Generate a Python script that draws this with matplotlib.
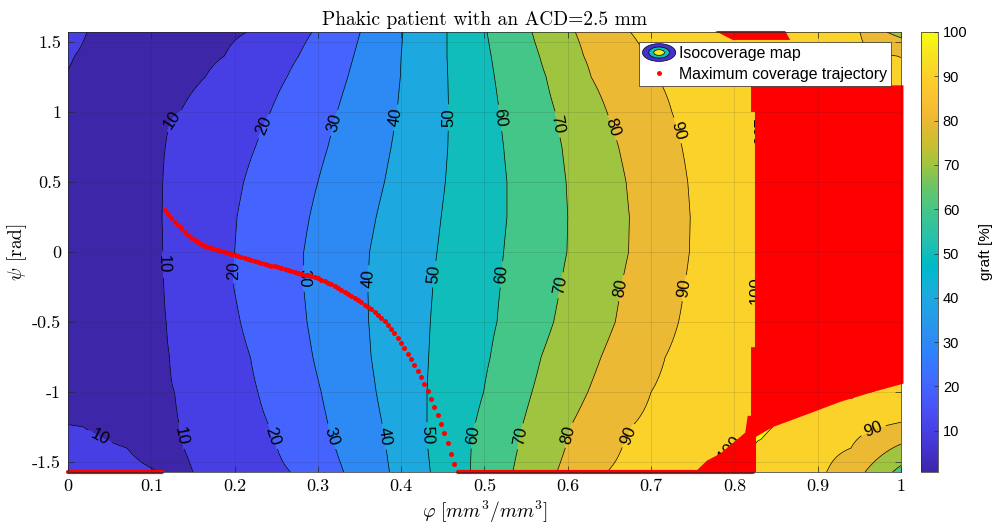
import numpy as np
import matplotlib
matplotlib.use("Agg")
import matplotlib.pyplot as plt
from matplotlib.colors import LinearSegmentedColormap, Normalize
from matplotlib.cm import ScalarMappable
from matplotlib.patches import Ellipse, Polygon
from matplotlib.legend_handler import HandlerBase
from matplotlib.lines import Line2D
from matplotlib.ticker import FuncFormatter

plt.rcParams['mathtext.fontset'] = 'cm'
plt.rcParams['axes.unicode_minus'] = False
plt.rcParams['font.family'] = ['Liberation Sans', 'DejaVu Sans']

HALF_PI = np.pi / 2
nan = np.nan

# ---------------------------------------------------------------- data
# Coverage profiles: for each psi row, where each iso-coverage level crosses phi
psi_rows = [HALF_PI, 1.40, 1.25, 1.00, 0.75, 0.50, 0.25, 0.00,
            -0.25, -0.50, -0.75, -1.00, -1.25, -1.40, -HALF_PI]

z_left = [11.0, 10.3, 9.85, 7.0, 5.0, 3.0, 1.6, 0.7, 1.0, 1.8, 3.0, 6.0, 10.3, 12.0, 14.0]
corner10_x = [0.023, 0.008, nan, nan, nan, nan, nan, nan, nan, nan, nan, nan, 0.019, 0.071, 0.110]
trough_x = [0.15, 0.13, 0.11, nan, nan, nan, nan, nan, nan, nan, nan, nan, 0.09, 0.11, 0.13]
trough_z = [6.5, 6.5, 6.5, nan, nan, nan, nan, nan, nan, nan, nan, nan, 7.0, 7.5, 8.0]

iso10 = [0.215, 0.188, 0.165, 0.135, 0.117, 0.114, 0.113, 0.114, 0.115, 0.118, 0.122, 0.128, 0.134, 0.139, 0.150]
iso20 = [0.293, 0.277, 0.263, 0.243, 0.225, 0.211, 0.203, 0.200, 0.199, 0.207, 0.219, 0.228, 0.242, 0.251, 0.267]
iso30 = [0.351, 0.343, 0.336, 0.323, 0.312, 0.300, 0.290, 0.283, 0.283, 0.287, 0.294, 0.304, 0.313, 0.321, 0.331]
iso40 = [0.402, 0.400, 0.399, 0.395, 0.388, 0.380, 0.370, 0.362, 0.360, 0.361, 0.364, 0.370, 0.378, 0.382, 0.386]
iso50 = [0.455, 0.455, 0.456, 0.457, 0.456, 0.453, 0.448, 0.443, 0.438, 0.435, 0.433, 0.431, 0.431, 0.432, 0.435]
iso60 = [0.503, 0.508, 0.512, 0.518, 0.523, 0.527, 0.527, 0.523, 0.519, 0.515, 0.507, 0.499, 0.488, 0.484, 0.483]
iso70 = [0.557, 0.566, 0.574, 0.585, 0.593, 0.598, 0.600, 0.599, 0.591, 0.583, 0.568, 0.557, 0.545, 0.540, 0.534]
iso80 = [0.609, 0.619, 0.628, 0.647, 0.661, 0.670, 0.674, 0.673, 0.664, 0.657, 0.640, 0.624, 0.603, 0.597, 0.587]
iso90 = [0.675, 0.693, 0.707, 0.725, 0.737, 0.744, 0.747, 0.746, 0.740, 0.733, 0.717, 0.700, 0.676, 0.665, 0.647]

x100_in = [0.777, nan, nan, 0.826, 0.826, 0.826, 0.826, 0.826, 0.826, 0.826, 0.824, 0.823, 0.819, 0.795, 0.757]
peak_x = [0.820, 0.800, 0.800, 0.900, 0.900, 0.900, 0.900, 0.900, 0.900, 0.900, 0.900, 0.900, 0.832, 0.808, 0.792]
peak_z = [100.5, 97.0, 97.5, 101, 101, 101, 101, 101, 101, 101, 101, 101, 101, 101, 101]
x100_out = [0.865, nan, nan, nan, nan, nan, nan, nan, nan, nan, nan, 0.966, 0.846, 0.824, 0.824]
x90_out = [0.951, 0.995, nan, nan, nan, nan, nan, nan, nan, nan, nan, nan, 0.975, 0.940, 0.911]
x80_out = [0.983, nan, nan, nan, nan, nan, nan, nan, nan, nan, nan, nan, nan, 0.990, 0.957]
x70_out = [nan, nan, nan, nan, nan, nan, nan, nan, nan, nan, nan, nan, nan, nan, 0.990]
z_right = [77.0, 89.5, 96.0, 101, 101, 101, 101, 101, 101, 101, 101, 99.5, 88.5, 78.0, 67.0]

# Maximum coverage trajectory (one point per phi sample)
phi_traj = [0.116, 0.120, 0.124, 0.128, 0.132, 0.136, 0.140, 0.144, 0.148, 0.152,
            0.156, 0.160, 0.164, 0.168, 0.172, 0.176, 0.180, 0.184, 0.188, 0.192,
            0.196, 0.200, 0.204, 0.208, 0.212, 0.216, 0.220, 0.224, 0.228, 0.232,
            0.236, 0.240, 0.244, 0.248, 0.252, 0.256, 0.260, 0.264, 0.268, 0.272,
            0.276, 0.280, 0.284, 0.288, 0.292, 0.296, 0.300, 0.304, 0.308, 0.312,
            0.316, 0.320, 0.324, 0.328, 0.332, 0.336, 0.340, 0.344, 0.348, 0.352,
            0.356, 0.360, 0.364, 0.368, 0.372, 0.376, 0.380, 0.384, 0.388, 0.392,
            0.396, 0.400, 0.404, 0.408, 0.412, 0.416, 0.420, 0.424, 0.428, 0.432,
            0.436, 0.440, 0.444, 0.448, 0.452, 0.456, 0.460, 0.464]
psi_traj = [0.300, 0.270, 0.242, 0.217, 0.193, 0.169, 0.146, 0.122, 0.099, 0.085,
            0.072, 0.058, 0.046, 0.037, 0.028, 0.019, 0.011, 0.004, -0.003, -0.010,
            -0.017, -0.024, -0.030, -0.037, -0.043, -0.049, -0.055, -0.062, -0.069, -0.076,
            -0.083, -0.090, -0.097, -0.103, -0.110, -0.117, -0.123, -0.130, -0.137, -0.143,
            -0.149, -0.155, -0.161, -0.167, -0.173, -0.179, -0.188, -0.198, -0.208, -0.219,
            -0.230, -0.242, -0.256, -0.270, -0.284, -0.298, -0.312, -0.327, -0.343, -0.359,
            -0.375, -0.392, -0.409, -0.429, -0.450, -0.472, -0.495, -0.521, -0.549, -0.580,
            -0.614, -0.650, -0.688, -0.727, -0.767, -0.808, -0.850, -0.895, -0.942, -0.995,
            -1.052, -1.110, -1.165, -1.225, -1.290, -1.362, -1.440, -1.515]

# Stretches of the lower boundary psi = -pi/2 where coverage is maximal
edge_run_start = [0.000, 0.468]
edge_run_end = [0.113, 0.822]

# Saturated (maximum coverage) area, outline in (phi, psi)
sat_phi = [0.820, 1.003, 1.003, 0.966, 0.927, 0.887, 0.846, 0.826, 0.826, 0.753,
           0.767, 0.783, 0.799, 0.813, 0.816, 0.820, 0.820, 0.8247, 0.8247, 0.820]
sat_psi = [1.185, 1.190, -0.940, -1.000, -1.070, -1.160, -1.250, -1.320, -HALF_PI, -HALF_PI,
           -1.490, -1.440, -1.360, -1.290, -1.170, -1.170, -0.680, -0.680, 1.000, 1.000]
top_phi = [0.777, 0.861, 0.867, 0.798]
top_psi = [1.578, 1.578, 1.514, 1.514]

levels = [10, 20, 30, 40, 50, 60, 70, 80, 90, 100]
cbar_ticks = [10, 20, 30, 40, 50, 60, 70, 80, 90, 100]
x_ticks = [0, 0.1, 0.2, 0.3, 0.4, 0.5, 0.6, 0.7, 0.8, 0.9, 1]
y_ticks = [-1.5, -1, -0.5, 0, 0.5, 1, 1.5]

# ---------------------------------------------------------------- colormap
PARULA_LOW = [
    (0.2422, 0.1504, 0.6603), (0.2504, 0.1650, 0.7076), (0.2578, 0.1818, 0.7511),
    (0.2647, 0.1978, 0.7952), (0.2706, 0.2147, 0.8364), (0.2751, 0.2342, 0.8710),
    (0.2783, 0.2559, 0.8991), (0.2803, 0.2782, 0.9221), (0.2813, 0.3006, 0.9414),
    (0.2810, 0.3228, 0.9579), (0.2795, 0.3447, 0.9717), (0.2760, 0.3667, 0.9829),
    (0.2699, 0.3892, 0.9906), (0.2602, 0.4123, 0.9952), (0.2440, 0.4358, 0.9988),
    (0.2206, 0.4603, 0.9973), (0.1963, 0.4847, 0.9892), (0.1834, 0.5074, 0.9798),
    (0.1786, 0.5289, 0.9682), (0.1764, 0.5499, 0.9520), (0.1687, 0.5703, 0.9359),
    (0.1540, 0.5902, 0.9218), (0.1460, 0.6091, 0.9079), (0.1380, 0.6276, 0.8973),
    (0.1248, 0.6459, 0.8883), (0.1113, 0.6635, 0.8763), (0.0952, 0.6798, 0.8598),
    (0.0689, 0.6948, 0.8394), (0.0297, 0.7082, 0.8163), (0.0036, 0.7199, 0.7918),
    (0.0067, 0.7296, 0.7662), (0.0433, 0.7377, 0.7394), (0.0964, 0.7446, 0.7117),
    (0.1408, 0.7510, 0.6829), (0.1717, 0.7574, 0.6533), (0.1938, 0.7635, 0.6218),
    (0.2161, 0.7697, 0.5886), (0.2470, 0.7730, 0.5550), (0.2906, 0.7761, 0.5209)]
PARULA_HIGH = [
    (0.65, (0.420, 0.770, 0.400)), (0.70, (0.630, 0.770, 0.240)),
    (0.75, (0.800, 0.745, 0.200)), (0.80, (0.920, 0.725, 0.200)),
    (0.85, (0.985, 0.755, 0.190)), (0.90, (0.985, 0.820, 0.165)),
    (0.95, (0.965, 0.895, 0.130)), (1.00, (0.976, 0.983, 0.054))]
cmap_nodes = [(i / 63.0, c) for i, c in enumerate(PARULA_LOW)] + PARULA_HIGH
parula = LinearSegmentedColormap.from_list('parula', cmap_nodes, N=256)

# ---------------------------------------------------------------- field
phi = np.linspace(0.0, 1.0, 601)
psi = np.linspace(-HALF_PI, HALF_PI, 481)

iso_cols = [(iso10, 10), (iso20, 20), (iso30, 30), (iso40, 40), (iso50, 50),
            (iso60, 60), (iso70, 70), (iso80, 80), (iso90, 90)]
profiles = []
for i in range(len(psi_rows)):
    knots = [(0.0, z_left[i]), (1.0, z_right[i])]
    for xs, v in [(corner10_x, 10.0), (x100_in, 100.0), (x100_out, 100.0),
                  (x90_out, 90.0), (x80_out, 80.0), (x70_out, 70.0)] + iso_cols:
        if not np.isnan(xs[i]):
            knots.append((xs[i], float(v)))
    if not np.isnan(trough_x[i]):
        knots.append((trough_x[i], trough_z[i]))
    knots.append((peak_x[i], peak_z[i]))
    knots.sort()
    kx, kz = zip(*knots)
    profiles.append(np.interp(phi, kx, kz))
profiles = np.array(profiles)
rows = np.array(psi_rows)
order = np.argsort(rows)
Z = np.empty((psi.size, phi.size))
for j in range(phi.size):
    Z[:, j] = np.interp(psi, rows[order], profiles[order, j])

zmin, zmax = Z.min(), Z.max()
norm = Normalize(vmin=zmin, vmax=100)

# ---------------------------------------------------------------- figure
fig = plt.figure(figsize=(9.95, 5.27), dpi=100)
ax = fig.add_axes([0.0683, 0.1044, 0.8372, 0.8349])
cax = fig.add_axes([0.9256, 0.1044, 0.0171, 0.8349])

fill_levels = [zmin - 1.0] + levels + [zmax + 1.0]
band_colors = [parula(norm(v)) for v in [zmin] + levels]
ax.contourf(phi, psi, Z, levels=fill_levels, colors=band_colors, zorder=1)
cs = ax.contour(phi, psi, Z, levels=levels, colors='k', linewidths=0.5, zorder=2)

label_spots = [
    (0.132, 0.92), (0.238, 0.89), (0.321, 0.92), (0.393, 0.96), (0.457, 0.96),
    (0.522, 0.96), (0.587, 0.91), (0.655, 0.89), (0.733, 0.87), (0.826, 0.85),
    (0.113, -0.09), (0.202, -0.13), (0.281, -0.19), (0.363, -0.19), (0.442, -0.16),
    (0.521, -0.16), (0.593, -0.24), (0.667, -0.26), (0.742, -0.26), (0.826, -0.27),
    (0.040, -1.30), (0.132, -1.32), (0.245, -1.32), (0.315, -1.32), (0.378, -1.32),
    (0.431, -1.31), (0.486, -1.31), (0.546, -1.32), (0.603, -1.31), (0.672, -1.31),
    (0.785, -1.36), (0.93, -1.03), (0.966, -1.26)]
ax.clabel(cs, manual=label_spots, inline=True, inline_spacing=4,
          fontsize=12, fmt='%d')

# saturated area and maximum-coverage trajectory
red = (1.0, 0.0, 0.0)
ax.add_patch(Polygon(np.column_stack([sat_phi, sat_psi]), closed=True,
                     facecolor=red, edgecolor='none', zorder=4, clip_on=False))
ax.add_patch(Polygon(np.column_stack([top_phi, top_psi]), closed=True,
                     facecolor=red, edgecolor='none', zorder=4, clip_on=False))
for a, b in zip(edge_run_start, edge_run_end):
    ax.plot([a, b], [-HALF_PI, -HALF_PI], color=red, lw=3.0,
            solid_capstyle='round', zorder=4, clip_on=False)
ax.scatter(phi_traj, psi_traj, s=13, color=red, linewidths=0, zorder=5)

# grid drawn over the fills
for xv in x_ticks[1:-1]:
    ax.axvline(xv, color=(0.15, 0.15, 0.15), alpha=0.15, lw=0.6, zorder=6)
for yv in y_ticks:
    ax.axhline(yv, color=(0.15, 0.15, 0.15), alpha=0.15, lw=0.6, zorder=6)

ax.set_xlim(0, 1)
ax.set_ylim(-HALF_PI, HALF_PI)
ax.set_xticks(x_ticks)
ax.set_yticks(y_ticks)
ax.xaxis.set_major_formatter(FuncFormatter(lambda v, p: f'{v:g}'))
ax.yaxis.set_major_formatter(FuncFormatter(lambda v, p: f'{v:g}'))
ax.tick_params(direction='in', top=True, right=True, length=4, width=0.5,
               labelsize=13, colors=(0.15, 0.15, 0.15), pad=5)
for lab in ax.get_xticklabels() + ax.get_yticklabels():
    lab.set_fontfamily('cmr10')
    lab.set_color('black')
for sp in ax.spines.values():
    sp.set_linewidth(0.5)
    sp.set_color((0.15, 0.15, 0.15))
    sp.set_zorder(7)

ax.set_title('Phakic patient with an ACD=2.5 mm', fontfamily='cmr10',
             fontsize=14, pad=5)
ax.set_xlabel(r'$\varphi\ [mm^3/mm^3]$', fontsize=14, labelpad=3)
ax.set_ylabel(r'$\psi$ [rad]', fontfamily='cmr10', fontsize=14)
ax.yaxis.set_label_coords(-0.047, 0.5)


class IsoHandle:
    pass


class IsoHandler(HandlerBase):
    def create_artists(self, legend, orig_handle, xdescent, ydescent,
                       width, height, fontsize, trans):
        cx = 0.5 * width - xdescent
        cy = 0.5 * height - ydescent
        arts = []
        for scale, col in [(1.0, parula(0.05)), (0.62, parula(0.5)), (0.32, parula(0.97))]:
            arts.append(Ellipse((cx, cy), width * scale, height * 1.6 * scale,
                                facecolor=col, edgecolor='k', lw=0.5,
                                transform=trans))
        return arts


traj_handle = Line2D([], [], ls='none', marker='.', color=red, markersize=5)
leg = ax.legend([IsoHandle(), traj_handle],
                ['Isocoverage map', 'Maximum coverage trajectory'],
                handler_map={IsoHandle: IsoHandler()},
                loc='upper right', bbox_to_anchor=(0.988, 0.977),
                fontsize=11.4, frameon=True, fancybox=False, framealpha=1,
                edgecolor=(0.15, 0.15, 0.15), handlelength=2.1,
                handletextpad=0.2, borderpad=0.25, labelspacing=0.35,
                borderaxespad=0)
leg.get_frame().set_linewidth(0.5)
leg.set_zorder(8)

# colour bar
sm = ScalarMappable(norm=norm, cmap=parula)
cb = fig.colorbar(sm, cax=cax, ticks=cbar_ticks)
cb.outline.set_linewidth(0.5)
cb.outline.set_edgecolor((0.15, 0.15, 0.15))
cax.tick_params(direction='in', length=3, width=0.5, labelsize=10.5,
                colors=(0.15, 0.15, 0.15))
for lab in cax.get_yticklabels():
    lab.set_color('black')
cb.set_label('graft [%]', fontsize=11, labelpad=8)

fig.savefig('out.png', dpi=100)
